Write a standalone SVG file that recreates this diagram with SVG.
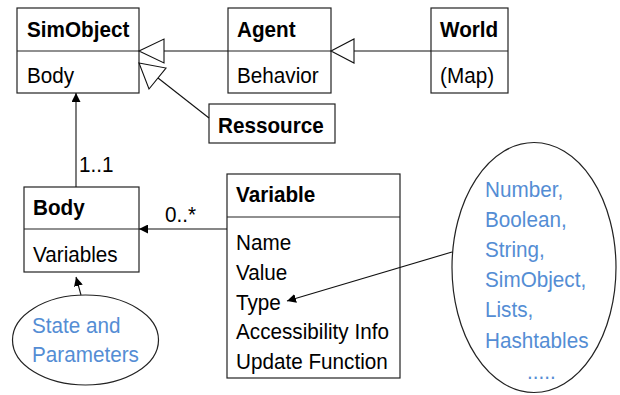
<svg xmlns="http://www.w3.org/2000/svg" width="620" height="395" viewBox="0 0 620 395">
<style>
.box{fill:#fff;stroke:#222;stroke-width:1.2}
.ln{fill:none;stroke:#111;stroke-width:1.1}
.tri{fill:#fff;stroke:#111;stroke-width:1.1}
.t{font-family:"Liberation Sans",Arial,sans-serif;font-size:22.5px;fill:#000;transform-box:fill-box;transform-origin:0 100%;transform:scaleX(0.92)}
.b{font-weight:bold}
.blue{fill:#548DD4}
</style>
<defs>
<marker id="ah" viewBox="0 0 10 10" refX="10" refY="5" markerWidth="9" markerHeight="9" markerUnits="userSpaceOnUse" orient="auto">
<path d="M0,0 L10,5 L0,10 z" fill="#000"/>
</marker>
</defs>
<g id="SimObject">
<rect class="box" x="17" y="8" width="122" height="85"/>
<line class="box" x1="17" y1="51" x2="139" y2="51"/>
<text class="t b" x="27" y="37">SimObject</text>
<text class="t" x="27" y="83">Body</text>
</g>
<g id="Agent">
<rect class="box" x="228" y="8" width="103" height="85"/>
<line class="box" x1="228" y1="51" x2="331" y2="51"/>
<text class="t b" x="237" y="37">Agent</text>
<text class="t" x="237" y="83">Behavior</text>
</g>
<g id="World">
<rect class="box" x="431" y="8" width="77" height="85"/>
<line class="box" x1="431" y1="51" x2="508" y2="51"/>
<text class="t b" x="440" y="37">World</text>
<text class="t" x="440" y="83">(Map)</text>
</g>
<g id="Ressource">
<rect class="box" x="209" y="104" width="126" height="39"/>
<text class="t b" x="218" y="133">Ressource</text>
</g>
<g id="Body">
<rect class="box" x="24" y="187" width="115" height="85"/>
<line class="box" x1="24" y1="229" x2="139" y2="229"/>
<text class="t b" x="33" y="215">Body</text>
<text class="t" x="33" y="262">Variables</text>
</g>
<g id="Variable">
<rect class="box" x="227" y="174" width="173" height="204"/>
<line class="box" x1="227" y1="217" x2="400" y2="217"/>
<text class="t b" x="236" y="202">Variable</text>
<text class="t" x="236" y="250">Name</text>
<text class="t" x="236" y="280">Value</text>
<text class="t" x="236" y="310">Type</text>
<text class="t" x="236" y="339">Accessibility Info</text>
<text class="t" x="236" y="369">Update Function</text>
</g>
<g id="StateParameters">
<ellipse class="box" cx="85.5" cy="340" rx="73" ry="45"/>
<text class="t blue" x="32" y="333">State and</text>
<text class="t blue" x="32" y="362">Parameters</text>
</g>
<g id="Types">
<ellipse class="box" cx="534" cy="267.5" rx="82" ry="125"/>
<text class="t blue" x="485" y="197">Number,</text>
<text class="t blue" x="485" y="227">Boolean,</text>
<text class="t blue" x="485" y="257">String,</text>
<text class="t blue" x="485" y="287">SimObject,</text>
<text class="t blue" x="485" y="317">Lists,</text>
<text class="t blue" x="485" y="348">Hashtables</text>
<text class="t blue" x="527" y="379">.....</text>
</g>
<g id="connectors">
<line class="ln" x1="164" y1="51" x2="228" y2="51"/>
<polygon class="tri" points="139,51 164,39 164,63"/>
<line class="ln" x1="354" y1="51" x2="431" y2="51"/>
<polygon class="tri" points="331,51 354,39 354,63"/>
<line class="ln" x1="158" y1="78" x2="209" y2="118"/>
<polygon class="tri" points="139,63 166,68 149,89"/>
<line class="ln" x1="76" y1="187" x2="76" y2="93" marker-end="url(#ah)"/>
<text class="t" x="79" y="172">1..1</text>
<line class="ln" x1="227" y1="229" x2="139" y2="229" marker-end="url(#ah)"/>
<text class="t" x="165" y="222">0..*</text>
<line class="ln" x1="81" y1="295" x2="76" y2="277" marker-end="url(#ah)"/>
<line class="ln" x1="452" y1="252" x2="287" y2="301" marker-end="url(#ah)"/>
</g>
</svg>
